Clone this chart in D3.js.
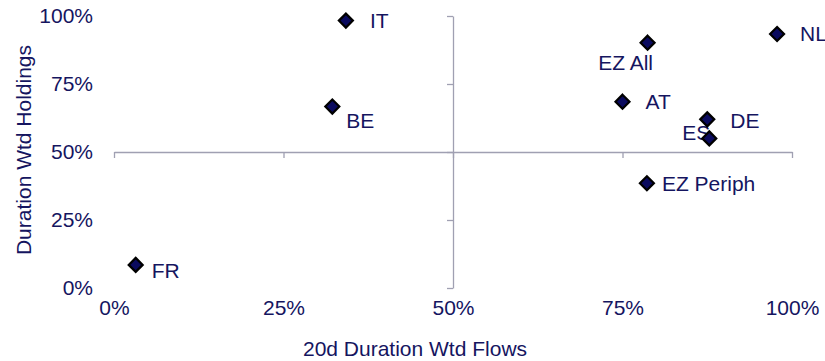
<!DOCTYPE html>
<html>
<head>
<meta charset="utf-8">
<script src="https://cdn.jsdelivr.net/npm/d3@7"></script>
<style>
  html, body { margin: 0; padding: 0; background: #fff; }
  svg { display: block; }
  text { font-family: "Liberation Sans", Arial, sans-serif; }
</style>
</head>
<body>
<svg id="chart" width="825" height="361"></svg>
<script>
// ---- data ----
const countries = ["IT", "BE", "FR", "EZ All", "NL", "AT", "DE", "ES", "EZ Periph"];
const flows     = [0.342, 0.322, 0.032, 0.787, 0.978, 0.750, 0.875, 0.878, 0.786];
const holdings  = [0.983, 0.667, 0.085, 0.902, 0.934, 0.685, 0.620, 0.550, 0.385];
const xTicks = [0, 0.25, 0.5, 0.75, 1];
const yTicks = [0, 0.25, 0.5, 0.75, 1];
const xTitle = "20d Duration Wtd Flows";
const yTitle = "Duration Wtd Holdings";

// ---- label placement (style) ----
const labelPlace = {
  "IT":        {dx: 24, dy: 7, anchor: "start"},
  "BE":        {dx: 14, dy: 21, anchor: "start"},
  "FR":        {dx: 16, dy: 13, anchor: "start"},
  "EZ All":    {dx: -22, dy: 27, anchor: "middle"},
  "NL":        {dx: 23, dy: 7, anchor: "start"},
  "AT":        {dx: 23, dy: 7, anchor: "start"},
  "DE":        {dx: 23, dy: 9, anchor: "start"},
  "ES":        {dx: 1, dy: 2, anchor: "end"},
  "EZ Periph": {dx: 15, dy: 8, anchor: "start"}
};

const textColor = "#15155f";
const axisColor = "#a0a0b2";
const fontSize = 21;

const svg = d3.select("#chart");
const x = d3.scaleLinear().domain([0, 1]).range([114, 792]);
const y = d3.scaleLinear().domain([0, 1]).range([288, 16]);
const pct = d3.format(".0%");

// crossing axes at 50%
const xAxisLine = svg.append("g")
  .attr("transform", `translate(0,${y(0.5)})`)
  .call(d3.axisBottom(x).tickValues(xTicks).tickSizeInner(6).tickSizeOuter(0).tickFormat(""));
const yAxisLine = svg.append("g")
  .attr("transform", `translate(${x(0.5)},0)`)
  .call(d3.axisLeft(y).tickValues(yTicks).tickSizeInner(6).tickSizeOuter(0).tickFormat(""));
[xAxisLine, yAxisLine].forEach(g => {
  g.selectAll("path, line").attr("stroke", axisColor).attr("stroke-width", 1.3);
});

// tick labels at low position
const xLab = svg.append("g")
  .attr("transform", `translate(0,${y(0)})`)
  .call(d3.axisBottom(x).tickValues(xTicks).tickSize(0).tickPadding(12).tickFormat(pct));
const yLab = svg.append("g")
  .attr("transform", `translate(${x(0)},0)`)
  .call(d3.axisLeft(y).tickValues(yTicks).tickSize(0).tickPadding(21).tickFormat(pct));
[xLab, yLab].forEach(g => {
  g.select(".domain").remove();
  g.selectAll("text")
    .attr("fill", textColor)
    .style("font-size", fontSize + "px")
    .style("font-family", "'Liberation Sans', Arial, sans-serif");
});

// axis titles
svg.append("text")
  .attr("x", 415).attr("y", 356)
  .attr("text-anchor", "middle")
  .attr("fill", textColor)
  .style("font-size", fontSize + "px")
  .text(xTitle);
svg.append("text")
  .attr("transform", `translate(31,150) rotate(-90)`)
  .attr("text-anchor", "middle")
  .attr("fill", textColor)
  .style("font-size", fontSize + "px")
  .text(yTitle);

const pts = countries.map((c, i) => ({name: c, fx: flows[i], hy: holdings[i]}));

// labels (under markers)
svg.append("g").selectAll("text")
  .data(pts).join("text")
  .attr("x", d => x(d.fx) + labelPlace[d.name].dx)
  .attr("y", d => y(d.hy) + labelPlace[d.name].dy)
  .attr("text-anchor", d => labelPlace[d.name].anchor)
  .attr("fill", textColor)
  .style("font-size", fontSize + "px")
  .text(d => d.name);

// diamond markers
const r = 7;
const diamond = `M0,${-r}L${r},0L0,${r}L${-r},0Z`;
svg.append("g").selectAll("path")
  .data(pts).join("path")
  .attr("transform", d => `translate(${x(d.fx)},${y(d.hy)})`)
  .attr("d", diamond)
  .attr("fill", "#0a0a5e")
  .attr("stroke", "#000")
  .attr("stroke-width", 2.2)
  .attr("stroke-linejoin", "miter");
</script>
</body>
</html>
